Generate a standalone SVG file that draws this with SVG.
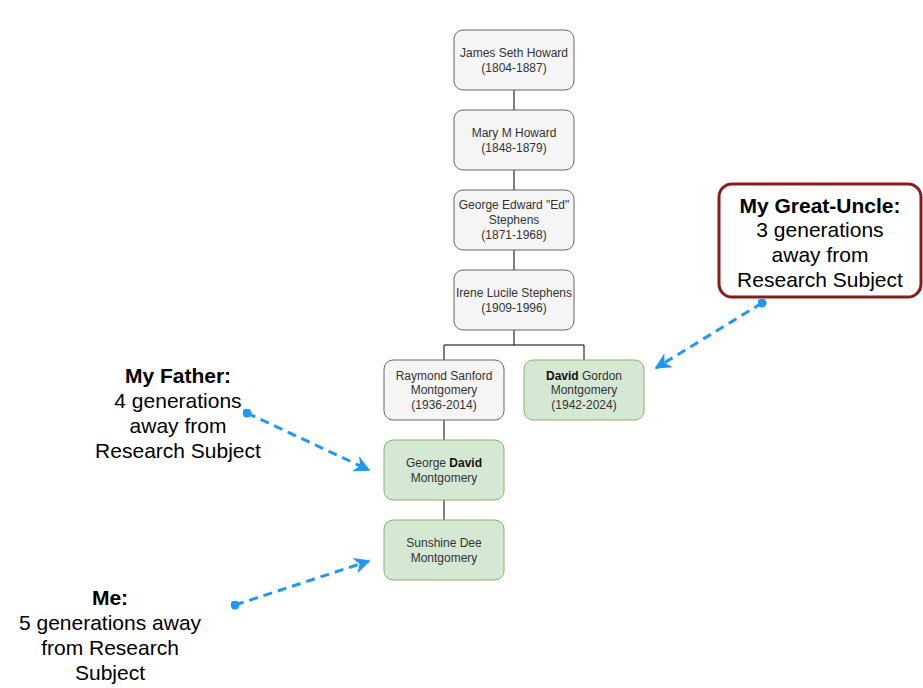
<svg xmlns="http://www.w3.org/2000/svg" width="923" height="688" viewBox="0 0 923 688">
<style>
.gray{fill:#f5f5f5;stroke:#666666;stroke-width:1}
.green{fill:#d5e8d4;stroke:#82b366;stroke-width:1}
.nt{font-family:"Liberation Sans",Arial,sans-serif;font-size:12px;fill:#333333;text-anchor:middle}
.b{font-weight:bold;fill:#111111}
.at{font-family:"Liberation Sans",Arial,sans-serif;font-size:21px;fill:#000000;text-anchor:middle}
.edge{stroke:#000000;stroke-width:1;fill:none}
.blue{stroke:#2196f3;stroke-width:3;stroke-dasharray:9,6;fill:none}
</style>
<defs>
<marker id="ah" viewBox="0 0 10 10" refX="9" refY="5" markerWidth="5.5" markerHeight="5.5" orient="auto" markerUnits="strokeWidth">
<path d="M0,0 L10,5 L0,10 L3,5 Z" fill="#2196f3"/>
</marker>
<marker id="dot" viewBox="0 0 10 10" refX="5" refY="5" markerWidth="3" markerHeight="3" markerUnits="strokeWidth">
<circle cx="5" cy="5" r="5" fill="#2196f3"/>
</marker>
</defs>
<g id="connectors">
<path class="edge" d="M514,90 V110"/>
<path class="edge" d="M514,170 V190"/>
<path class="edge" d="M514,250 V270"/>
<path class="edge" d="M514,330 V345 M444,345 H584 M444,345 V360 M584,345 V360"/>
<path class="edge" d="M444,420 V440"/>
<path class="edge" d="M444,500 V520"/>
<path class="blue" d="M762,303 L656,368" marker-start="url(#dot)" marker-end="url(#ah)"/>
<path class="blue" d="M247,413 L369,470" marker-start="url(#dot)" marker-end="url(#ah)"/>
<path class="blue" d="M235,605 L369,561" marker-start="url(#dot)" marker-end="url(#ah)"/>
</g>
<g id="james">
<rect class="gray" x="454" y="30" width="120" height="60" rx="9"/>
<text class="nt" x="514" y="57">James Seth Howard</text>
<text class="nt" x="514" y="72">(1804-1887)</text>
</g>
<g id="mary">
<rect class="gray" x="454" y="110" width="120" height="60" rx="9"/>
<text class="nt" x="514" y="137">Mary M Howard</text>
<text class="nt" x="514" y="152">(1848-1879)</text>
</g>
<g id="george-ed">
<rect class="gray" x="454" y="190" width="120" height="60" rx="9"/>
<text class="nt" x="514" y="209">George Edward "Ed"</text>
<text class="nt" x="514" y="224">Stephens</text>
<text class="nt" x="514" y="239">(1871-1968)</text>
</g>
<g id="irene">
<rect class="gray" x="454" y="270" width="120" height="60" rx="9"/>
<text class="nt" x="514" y="297">Irene Lucile Stephens</text>
<text class="nt" x="514" y="312">(1909-1996)</text>
</g>
<g id="raymond">
<rect class="gray" x="384" y="360" width="120" height="60" rx="9"/>
<text class="nt" x="444" y="380">Raymond Sanford</text>
<text class="nt" x="444" y="394">Montgomery</text>
<text class="nt" x="444" y="409">(1936-2014)</text>
</g>
<g id="david-gordon">
<rect class="green" x="524" y="360" width="120" height="60" rx="9"/>
<text class="nt" x="584" y="380"><tspan class="b">David</tspan> Gordon</text>
<text class="nt" x="584" y="394">Montgomery</text>
<text class="nt" x="584" y="409">(1942-2024)</text>
</g>
<g id="george-david">
<rect class="green" x="384" y="440" width="120" height="60" rx="9"/>
<text class="nt" x="444" y="467">George <tspan class="b">David</tspan></text>
<text class="nt" x="444" y="482">Montgomery</text>
</g>
<g id="sunshine">
<rect class="green" x="384" y="520" width="120" height="60" rx="9"/>
<text class="nt" x="444" y="547">Sunshine Dee</text>
<text class="nt" x="444" y="562">Montgomery</text>
</g>
<g id="great-uncle">
<rect x="719" y="184" width="202" height="113" rx="13" fill="#ffffff" stroke="#8b1a1a" stroke-width="3"/>
<text class="at" x="820" y="213" font-weight="bold">My Great-Uncle:</text>
<text class="at" x="820" y="237">3 generations</text>
<text class="at" x="820" y="262">away from</text>
<text class="at" x="820" y="287">Research Subject</text>
</g>
<g id="father">
<text class="at" x="178" y="383" font-weight="bold">My Father:</text>
<text class="at" x="178" y="408">4 generations</text>
<text class="at" x="178" y="433">away from</text>
<text class="at" x="178" y="458">Research Subject</text>
</g>
<g id="me">
<text class="at" x="110" y="605" font-weight="bold">Me:</text>
<text class="at" x="110" y="630">5 generations away</text>
<text class="at" x="110" y="655">from Research</text>
<text class="at" x="110" y="680">Subject</text>
</g>
</svg>
